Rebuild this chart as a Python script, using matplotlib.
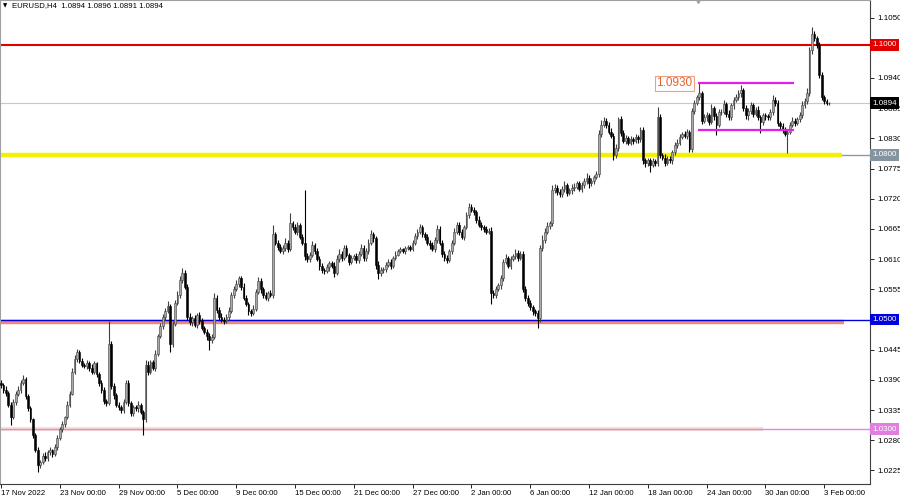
import numpy as np
import matplotlib.pyplot as plt
from matplotlib.ticker import FixedFormatter

plt.rcParams['font.family'] = ['Liberation Sans', 'DejaVu Sans']

# EURUSD H4 closes, in pips above 1.0000 (one row per trading day, 6 bars)
first_open = 1.0385
close_pips = [
    380, 372, 366, 345, 322, 350,    # 17 Nov
    365, 372, 384, 392, 360, 338,
    318, 290, 262, 235, 240, 252,
    248, 258, 262, 255, 268, 285,
    300, 310, 322, 345, 365, 405,    # 23 Nov
    428, 440, 425, 418, 415, 420,
    412, 405, 420, 400, 385, 372,
    352, 348, 455, 378, 362, 345,
    340, 335, 350, 385, 348, 330,    # 29 Nov
    340, 338, 345, 332, 318, 418,
    405, 422, 412, 438, 470, 488,
    505, 515, 525, 455, 492, 530,
    545, 572, 585, 560, 505, 495,    # 5 Dec
    502, 490, 508, 498, 485, 478,
    470, 462, 468, 540, 518, 505,
    500, 498, 505, 515, 545, 555,
    565, 575, 560, 540, 528, 515,    # 9 Dec
    512, 520, 550, 570, 555, 545,
    540, 548, 545, 655, 640, 632,
    625, 630, 640, 628, 675, 668,
    660, 672, 650, 640, 615, 610,    # 15 Dec
    618, 635, 625, 610, 598, 590,
    588, 595, 602, 598, 585, 610,
    620, 612, 630, 618, 605, 612,
    615, 608, 620, 630, 612, 625,    # 21 Dec
    640, 655, 648, 600, 585, 590,
    592, 600, 605, 598, 612, 618,
    625, 628, 624, 630, 632, 628,
    640, 652, 660, 668, 655, 650,    # 27 Dec
    640, 635, 628, 645, 665, 640,
    620, 612, 608, 625, 640, 660,
    672, 660, 650, 668, 690, 705,
    700, 695, 682, 672, 668, 665,    # 2 Jan
    660, 662, 548, 545, 555, 562,
    575, 605, 612, 598, 610, 615,
    622, 612, 620, 555, 540, 530,
    522, 515, 512, 502, 630, 645,    # 6 Jan
    660, 670, 675, 735, 740, 732,
    728, 738, 745, 730, 735, 740,
    742, 748, 738, 745, 752, 758,
    748, 752, 760, 765, 838, 855,    # 12 Jan
    862, 855, 842, 835, 800, 812,
    865, 840, 825, 830, 822, 828,
    825, 832, 828, 845, 790, 785,
    790, 782, 788, 785, 868, 800,    # 18 Jan
    795, 785, 792, 790, 805, 818,
    822, 832, 838, 835, 842, 810,
    880, 895, 905, 912, 862, 868,
    872, 860, 885, 870, 855, 878,    # 24 Jan
    878, 892, 875, 868, 890, 900,
    905, 912, 918, 885, 872, 880,
    890, 875, 882, 868, 860, 872,
    870, 868, 878, 900, 895, 858,    # 30 Jan
    852, 845, 838, 842, 855, 862,
    858, 865, 872, 890, 898, 912,
    990, 1020, 1012, 1000, 945, 905,
    898, 894, 894,                   # 3 Feb
]
# wick lengths above / below the body, pips
wick_up = [
    5, 4, 6, 3, 4, 6,   4, 6, 5, 7, 3, 4,   5, 3, 4, 6, 5, 4,   6, 4, 5, 3, 6, 5,
    4, 5, 3, 6, 4, 7,   8, 6, 4, 5, 3, 6,   4, 7, 5, 3, 4, 5,   5, 4, 42, 5, 6, 4,
    4, 5, 6, 4, 5, 3,   5, 4, 6, 3, 4, 8,   6, 4, 5, 7, 4, 6,   5, 6, 8, 4, 5, 6,
    6, 8, 8, 5, 4, 6,   5, 7, 4, 6, 5, 4,   4, 5, 6, 8, 4, 5,   6, 4, 5, 7, 5, 6,
    7, 5, 4, 6, 5, 4,   4, 6, 5, 8, 5, 4,   5, 4, 6, 17, 5, 4,  6, 5, 8, 4, 19, 5,
    6, 5, 4, 5, 96, 6,  5, 8, 4, 6, 5, 4,   4, 6, 5, 4, 6, 8,   8, 4, 6, 5, 4, 6,
    5, 6, 4, 8, 5, 6,   6, 8, 5, 4, 6, 5,   4, 5, 6, 5, 4, 6,   3, 4, 3, 4, 3, 4,
    5, 6, 4, 6, 5, 4,   5, 4, 6, 5, 8, 5,   4, 5, 6, 4, 5, 6,   5, 6, 4, 5, 6, 7,
    6, 5, 4, 6, 5, 4,   5, 4, 6, 5, 6, 4,   6, 5, 8, 4, 6, 5,   6, 5, 4, 5, 6, 4,
    5, 4, 5, 6, 6, 8,   6, 8, 5, 10, 6, 5,  5, 6, 8, 4, 5, 6,   6, 5, 4, 6, 5, 8,
    6, 5, 4, 6, 8, 8,   7, 5, 4, 6, 5, 8,   4, 6, 5, 6, 4, 6,   5, 6, 4, 6, 5, 4,
    5, 4, 6, 5, 19, 6,  4, 6, 5, 6, 4, 5,   6, 5, 4, 6, 5, 4,   6, 5, 4, 18, 5, 6,
    6, 5, 8, 4, 6, 5,   5, 8, 4, 6, 5, 6,   5, 6, 9, 4, 5, 6,   6, 4, 5, 6, 4, 5,
    5, 4, 6, 8, 5, 4,   4, 5, 6, 4, 5, 6,   5, 4, 6, 8, 6, 10,  6, 13, 6, 5, 6, 5,
    4, 3, 2,
]
wick_dn = [
    4, 5, 6, 5, 14, 4,  5, 4, 6, 3, 5, 4,   5, 6, 4, 13, 5, 4,  6, 5, 4, 5, 4, 6,
    4, 5, 6, 4, 5, 3,   5, 6, 4, 5, 4, 6,   6, 5, 4, 5, 6, 5,   5, 6, 4, 5, 6, 5,
    4, 6, 5, 4, 5, 6,   5, 4, 6, 5, 28, 5,  6, 5, 4, 6, 5, 4,   5, 6, 4, 15, 5, 4,
    4, 5, 6, 5, 6, 5,   6, 4, 5, 6, 4, 5,   8, 17, 5, 4, 6, 5,  5, 6, 4, 5, 4, 6,
    4, 5, 6, 5, 4, 6,   6, 4, 5, 4, 6, 5,   5, 6, 4, 5, 4, 6,   4, 5, 6, 5, 4, 5,
    5, 6, 4, 5, 6, 5,   6, 5, 6, 4, 8, 5,   5, 4, 6, 5, 8, 4,   5, 6, 4, 5, 6, 4,
    4, 6, 5, 4, 5, 6,   5, 4, 6, 8, 12, 5,  6, 5, 4, 6, 5, 4,   3, 4, 3, 4, 3, 3,
    4, 5, 6, 4, 5, 6,   5, 6, 4, 5, 6, 5,   6, 5, 6, 4, 5, 4,   5, 6, 4, 5, 4, 5,
    4, 5, 6, 4, 5, 6,   5, 4, 20, 6, 5, 4,  6, 5, 4, 5, 6, 4,   5, 6, 4, 5, 6, 5,
    5, 6, 5, 18, 6, 5,  6, 5, 6, 4, 5, 6,   5, 4, 6, 5, 4, 6,   6, 5, 4, 5, 6, 5,
    8, 5, 6, 4, 5, 6,   5, 6, 4, 5, 10, 5,  6, 5, 4, 6, 5, 4,   5, 4, 6, 5, 6, 8,
    6, 14, 5, 6, 5, 6,  5, 6, 4, 5, 6, 5,   6, 5, 4, 5, 6, 5,   5, 6, 4, 5, 6, 5,
    6, 5, 4, 6, 19, 5,  5, 4, 6, 5, 4, 6,   4, 5, 6, 5, 6, 8,   5, 6, 4, 5, 21, 5,
    6, 5, 4, 5, 6, 5,   5, 6, 4, 35, 5, 4,  5, 4, 6, 5, 4, 6,   5, 6, 5, 6, 5, 6,
    5, 3, 3,
]

date_labels = ["17 Nov 2022", "23 Nov 00:00", "29 Nov 00:00", "5 Dec 00:00",
               "9 Dec 00:00", "15 Dec 00:00", "21 Dec 00:00", "27 Dec 00:00",
               "2 Jan 00:00", "6 Jan 00:00", "12 Jan 00:00", "18 Jan 00:00",
               "24 Jan 00:00", "30 Jan 00:00", "3 Feb 00:00"]
bars_per_label = 24

resistance = 1.1000
support = 1.0800
level_1050 = 1.0500
level_1030 = 1.0300
range_top = 1.0930
range_bottom = 1.0845
last_bar = (1.0894, 1.0896, 1.0891, 1.0894)

close = 1 + np.array(close_pips) / 10000
open_ = np.concatenate([[first_open], close[:-1]])
high = np.maximum(open_, close) + np.array(wick_up) / 10000
low = np.minimum(open_, close) - np.array(wick_dn) / 10000
idx = np.arange(len(close))
up = close >= open_

fig = plt.figure(figsize=(9, 4.96), dpi=100)
ax = fig.add_axes([0, 12 / 496, 870 / 900, 484 / 496])

# levels
ax.axhline(last_bar[3], color='#c8c8c8', lw=0.8, zorder=1)
ax.axhline(resistance, color='#e00000', lw=1.5, zorder=1)
ax.axhline(support, color='#8c9aa6', lw=1.0, zorder=1)
ax.hlines(support, -1, 343.3, color='#f2f200', lw=3.2, zorder=1)
ax.hlines(level_1050 - 0.0004, -1, 344, color='#f0877a', lw=3.2, zorder=1)
ax.axhline(level_1050, color='#0000d8', lw=1.0, zorder=1)
ax.hlines(level_1030, -1, 311, color='#f6e2d8', lw=3.0, zorder=1)
ax.axhline(level_1030, color='#e088d8', lw=1.0, zorder=1)
ax.hlines([range_top, range_bottom], 284.5, 323.5, color='#e61ee6', lw=1.6, zorder=4)

# candles
ax.vlines(idx[up], low[up], high[up], color='#404040', lw=0.8, zorder=2)
ax.vlines(idx[~up], low[~up], high[~up], color='black', lw=0.8, zorder=2)
body = np.maximum(np.abs(close - open_), 0.00004)
bottom = np.minimum(open_, close)
ax.bar(idx[up], body[up], bottom=bottom[up], width=0.7, color='#a8a8a8',
       edgecolor='#404040', linewidth=0.4, zorder=3)
ax.bar(idx[~up], body[~up], bottom=bottom[~up], width=0.7, color='black',
       edgecolor='black', linewidth=0.4, zorder=3)

ax.annotate(f"{range_top:.4f}", xy=(284.5, range_top), xytext=(-4, 0),
            textcoords='offset points', ha='right', va='center', fontsize=8.5,
            color='#e8602c', zorder=5,
            bbox=dict(boxstyle='square,pad=0.15', fc='white', ec='#f0a080', lw=0.8))

ax.set_xlim(-0.41, 354.7)
ax.set_ylim(1.02004, 1.10819)

# price scale; the labels under the 1.1000 and 1.0500 tags are covered
yticks = np.round(1.0225 + 0.0055 * np.arange(16), 4)
ylabels = ["" if t in (1.0995, 1.0500) else f"{t:.4f}" for t in yticks]
ax.yaxis.tick_right()
ax.set_yticks(yticks)
ax.yaxis.set_major_formatter(FixedFormatter(ylabels))
ax.tick_params(axis='y', direction='out', length=3, width=0.6, labelsize=5.8, pad=2)
ax.set_xticks(np.arange(len(date_labels)) * bars_per_label)
ax.set_xticklabels(date_labels, ha='left')
ax.tick_params(axis='x', direction='out', length=3, width=0.6, labelsize=5.6, pad=1.5)
for s in ['left', 'top']:
    ax.spines[s].set_color('#a0a0a0')
for s in ['right', 'bottom']:
    ax.spines[s].set_color('#404040')
    ax.spines[s].set_linewidth(0.8)

# coloured price tags on the right axis
tags = [(resistance, '#e00000'), (last_bar[3], 'black'), (support, '#8595a0'),
        (level_1050, '#0000e0'), (level_1030, '#e07fdf')]
for price, col in tags:
    ax.annotate(f"{price:.4f}", xy=(1.0, price), xycoords=('axes fraction', 'data'),
                xytext=(1.5, 0), textcoords='offset points', ha='left', va='center',
                fontsize=5.8, color='white', annotation_clip=False, zorder=6,
                bbox=dict(boxstyle='square,pad=0.3', fc=col, ec='none'))

# chart shift marker at the top
ax.plot([284.3], [1.1082], marker='v', color='#a0a0a0', markersize=5, zorder=5)

fig.text(3 / 900, 1 - 6 / 496, "\u25bc", fontsize=4, va='center', family='DejaVu Sans')
fig.text(12 / 900, 1 - 6 / 496, "EURUSD,H4  " + " ".join(f"{v:.4f}" for v in last_bar),
         fontsize=5.6, va='center')

fig.savefig("out.png", dpi=100, facecolor='white')
